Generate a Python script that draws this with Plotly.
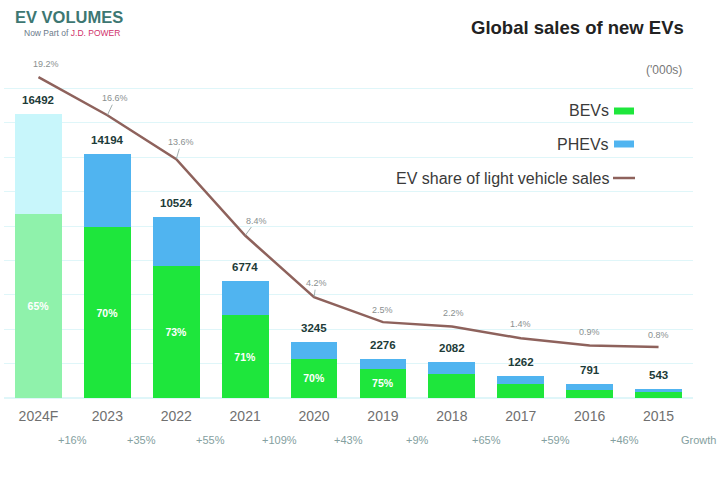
import plotly.graph_objects as go

years = ["2015", "2016", "2017", "2018", "2019", "2020", "2021", "2022", "2023", "2024F"]
totals = [543, 791, 1262, 2082, 2276, 3245, 6774, 10524, 14194, 16492]
bev_share = [0.60, 0.60, 0.66, 0.66, 0.75, 0.70, 0.71, 0.73, 0.70, 0.65]
bev_labels = ["", "", "", "", "75%", "70%", "71%", "73%", "70%", "65%"]
ev_share = [0.8, 0.9, 1.4, 2.2, 2.5, 4.2, 8.4, 13.6, 16.6, 19.2]
growth = ["", "+46%", "+59%", "+65%", "+9%", "+43%", "+109%", "+55%", "+35%", "+16%"]

idx = list(range(len(years)))
bev = [round(t * s) for t, s in zip(totals, bev_share)]
phev = [t - b for t, b in zip(totals, bev)]

BEV_C, PHEV_C = "#1ee63c", "#50b4f0"
BEV_F, PHEV_F = "#8ff2ab", "#c8f6fb"
LINE_C = "#8e625c"
bev_colors = [BEV_C] * 9 + [BEV_F]
phev_colors = [PHEV_C] * 9 + [PHEV_F]
FONT = "Liberation Sans"

fig = go.Figure()
fig.add_trace(go.Bar(
    x=idx, y=bev, marker=dict(color=bev_colors, line=dict(width=0)),
    text=bev_labels, textposition="inside", insidetextanchor="middle",
    textfont=dict(color="white", size=10.5, family=FONT),
    texttemplate="<b>%{text}</b>", constraintext="none", name="BEVs",
    showlegend=False, hoverinfo="skip"))
fig.add_trace(go.Bar(
    x=idx, y=phev, marker=dict(color=phev_colors, line=dict(width=0)),
    name="PHEVs", showlegend=False, hoverinfo="skip"))
fig.add_trace(go.Scatter(
    x=idx, y=ev_share, yaxis="y2", mode="lines",
    line=dict(color=LINE_C, width=2.5), name="EV share of light vehicle sales",
    showlegend=False, hoverinfo="skip"))

# total labels above bars
for i, t in zip(idx, totals):
    fig.add_annotation(x=i, y=t, text=f"<b>{t}</b>", showarrow=False, yshift=14,
                       font=dict(size=11.5, color="#1d3b38", family=FONT))

# EV share labels
share_offsets = [(0, -12, False), (0, -14, False), (0, -14, False), (2, -14, False),
                 (0, -12, False), (2, -14, True), (11, -15, True), (5, -17, True),
                 (8, -17, True), (8, -13, False)]
for i, s, (ax, ay, arr) in zip(idx, ev_share, share_offsets):
    fig.add_annotation(x=i, y=s, yref="y2", text=f"{s}%", showarrow=True,
                       ax=ax, ay=ay, arrowhead=0, arrowwidth=0.8,
                       arrowcolor="#8a9a9a" if arr else "rgba(0,0,0,0)",
                       font=dict(size=9, color="#8a8f8f", family=FONT))

# growth row
for i, g in zip(idx, growth):
    if g:
        fig.add_annotation(x=i - 0.5, y=0, yref="paper", text=g, showarrow=False,
                           yanchor="middle", yshift=-42,
                           font=dict(size=11, color="#84a0a0", family=FONT))

PL, PR, PT, PB = 4, 693, 54, 398
W, H = PR - PL, PB - PT
def px(x):
    return (x - PL) / W
def py(y):
    return (PB - y) / H

fig.add_annotation(xref="paper", yref="paper", x=px(718), y=py(440), text="Growth",
                   xanchor="right", yanchor="middle", showarrow=False,
                   font=dict(size=11, color="#84a0a0", family=FONT))

# title & unit
fig.add_annotation(xref="paper", yref="paper", x=px(686), y=py(27), text="<b>Global sales of new EVs</b>",
                   xanchor="right", yanchor="middle", showarrow=False,
                   font=dict(size=18.5, color="#222222", family=FONT))
fig.add_annotation(xref="paper", yref="paper", x=px(684), y=py(70), text="('000s)",
                   xanchor="right", yanchor="middle", showarrow=False,
                   font=dict(size=12, color="#777777", family=FONT))
# logo
fig.add_annotation(xref="paper", yref="paper", x=px(13), y=py(17), text="<b>EV VOLUMES</b>",
                   xanchor="left", yanchor="middle", showarrow=False,
                   font=dict(size=16.5, color="#3d7772", family=FONT))
fig.add_annotation(xref="paper", yref="paper", x=px(22), y=py(33),
                   text="Now Part of <span style='color:#d0306a'>J.D. POWER</span>",
                   xanchor="left", yanchor="middle", showarrow=False,
                   font=dict(size=8.5, color="#6a7a8a", family=FONT))

# manual legend (swatch on the right of text, as in reference)
leg = [("BEVs", BEV_C, 111, "rect"), ("PHEVs", PHEV_C, 144, "rect"),
       ("EV share of light vehicle sales", LINE_C, 178, "line")]
for name, col, yy, kind in leg:
    if kind == "rect":
        fig.add_shape(type="rect", xref="paper", yref="paper", x0=px(614), x1=px(634),
                      y0=py(yy + 3.5), y1=py(yy - 3.5), fillcolor=col, line=dict(width=0))
    else:
        fig.add_shape(type="line", xref="paper", yref="paper", x0=px(613), x1=px(635),
                      y0=py(yy), y1=py(yy), line=dict(color=col, width=2.5))
    fig.add_annotation(xref="paper", yref="paper", x=px(611), y=py(yy), text=name,
                       xanchor="right", yanchor="middle", showarrow=False,
                       font=dict(size=16, color="#3a3a3a", family=FONT))

fig.update_layout(
    width=720, height=480, barmode="stack", bargap=0.32,
    margin=dict(l=PL, r=720 - PR, t=PT, b=480 - PB),
    paper_bgcolor="white", plot_bgcolor="white",
    xaxis=dict(tickmode="array", tickvals=idx, ticktext=years, autorange=False,
               range=[9.5, -0.5], showgrid=False, zeroline=False, showline=False,
               ticks="outside", ticklen=5, tickcolor="rgba(0,0,0,0)",
               tickfont=dict(size=14, color="#707070", family=FONT)),
    yaxis=dict(range=[0, 20000], dtick=2000, showticklabels=False, gridcolor="#dff6f9",
               gridwidth=1, zeroline=True, zerolinecolor="#dff6f9", showline=False, ticks=""),
    yaxis2=dict(range=[-2.67, 20.77], overlaying="y", side="right", showgrid=False,
                showticklabels=False, zeroline=False, showline=False),
    showlegend=False,
)

fig.write_html("out.html")
